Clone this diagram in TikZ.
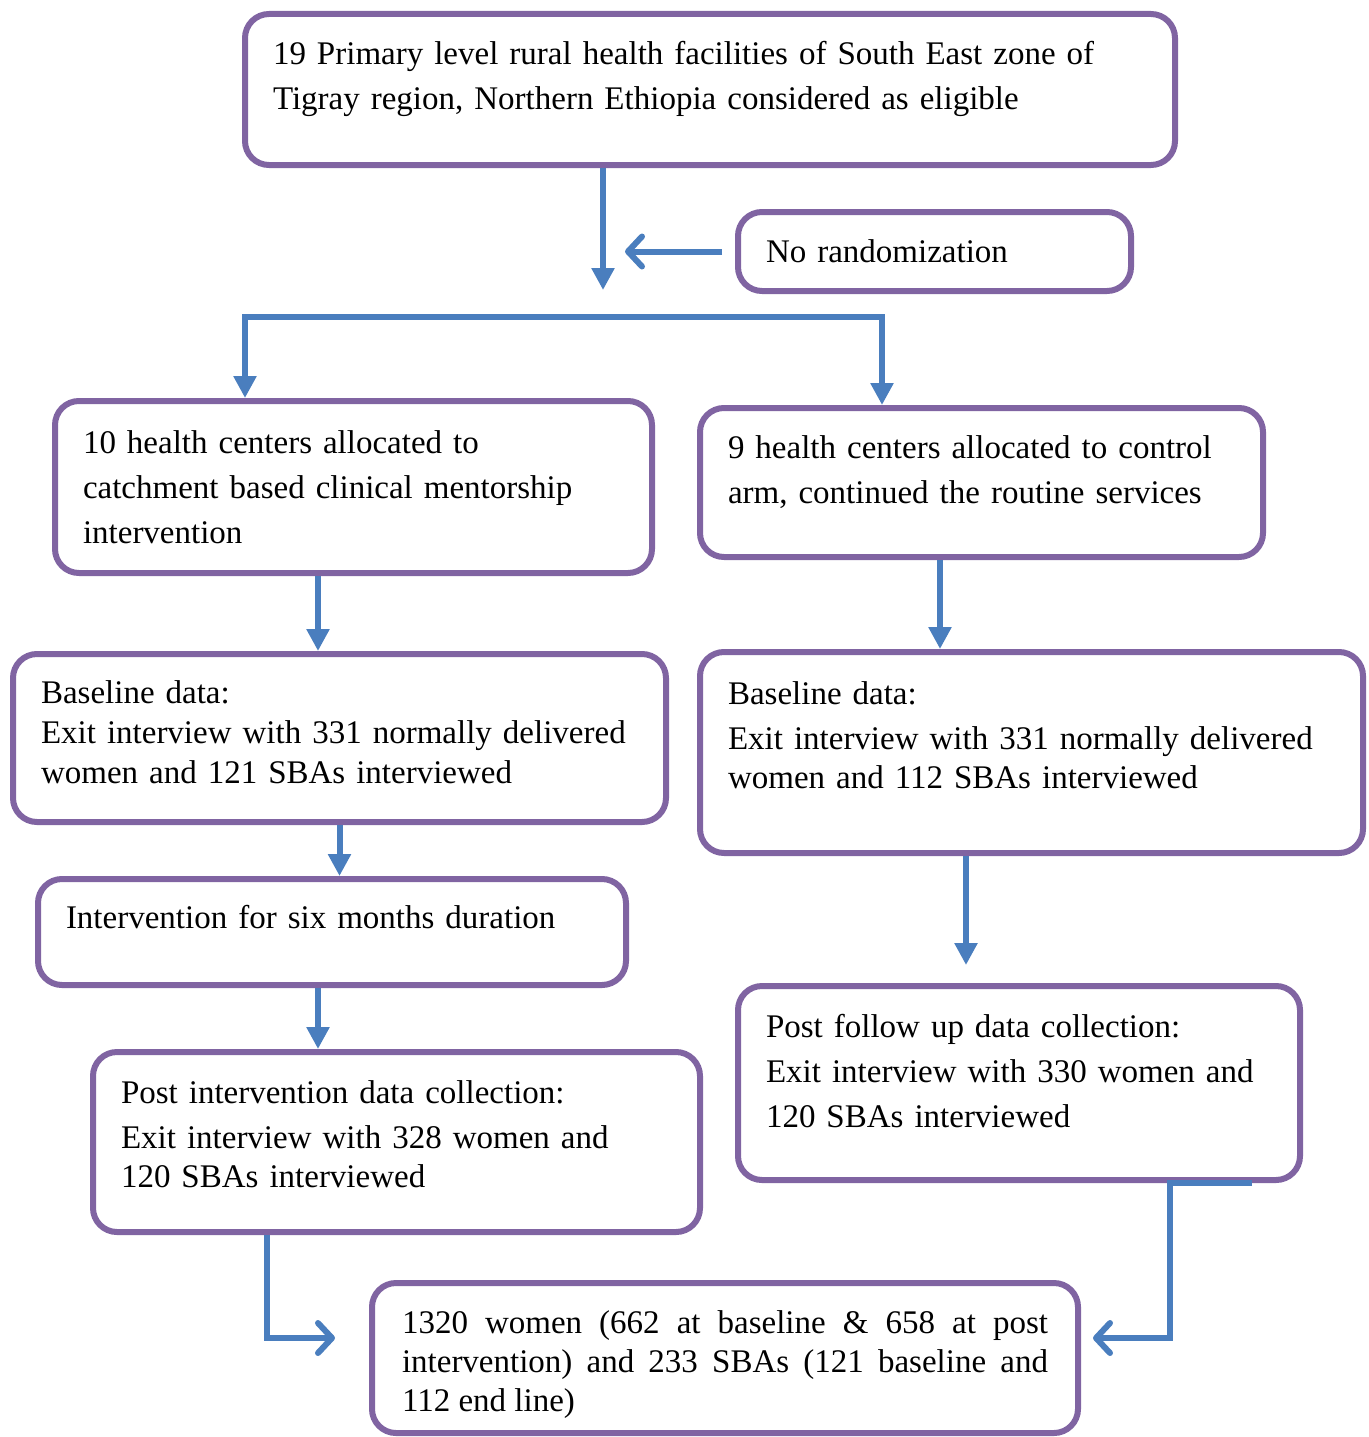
\documentclass[tikz,border=0pt]{standalone}
\usepackage{fontspec}
\setmainfont{Liberation Serif}
\usepackage{xcolor}
\usetikzlibrary{arrows.meta}

\definecolor{boxpurple}{RGB}{128,100,162}
\definecolor{flowblue}{RGB}{74,126,190}
% invisible strut that deepens the last line of a box
\newcommand{\deepline}[1]{\rule[-#1]{0pt}{#1}}

\begin{document}
\begin{tikzpicture}[x=1pt, y=-1pt, font=\fontsize{33}{45}\selectfont,
  stage/.style={draw=boxpurple, line width=6pt, rounded corners=24pt, inner xsep=28pt, align=left},
  link/.style={draw=flowblue, line width=6pt},
  tri/.style={-{Triangle[length=22pt, width=22pt]}},
  tritri/.style={{Triangle[length=22pt, width=22pt]}-{Triangle[length=22pt, width=22pt]}},
  barb/.style={-{Straight Barb[length=14pt, width=30pt, line cap=round, line join=round]}},
  ]
  \useasboundingbox (0,0) rectangle (1368,1437);

  % Boxes
  \node[stage, minimum width=930pt, minimum height=151pt, text width=874pt] (top) at (710,89.5)
    {19 Primary level rural health facilities of South East zone of\\Tigray region, Northern Ethiopia considered as eligible\deepline{29pt}};
  \node[stage, minimum width=393pt, minimum height=79pt, text width=337pt] (norand) at (934.5,251.5)
    {No randomization};
  \node[stage, minimum width=597pt, minimum height=172pt, text width=541pt] (left1) at (353.5,487)
    {10 health centers allocated to\\catchment based clinical mentorship\\intervention};
  \node[stage, minimum width=563pt, minimum height=149pt, text width=507pt] (right1) at (981.5,482.5)
    {9 health centers allocated to control\\arm, continued the routine services\deepline{25pt}};
  \node[stage, minimum width=653pt, minimum height=168pt, text width=597pt, font=\fontsize{33}{40}\selectfont] (left2) at (339.5,738)
    {Baseline data:\\Exit interview with 331 normally delivered\\women and 121 SBAs interviewed\deepline{12pt}};
  \node[stage, minimum width=663pt, minimum height=201pt, text width=607pt] (right2) at (1031.5,752.5)
    {Baseline data:\\Exit interview with 331 normally delivered\\[-6pt]women and 112 SBAs interviewed\deepline{35pt}};
  \node[stage, minimum width=588pt, minimum height=106pt, text width=532pt] (interv) at (332,932)
    {Intervention for six months duration\\[-14pt]\mbox{}};
  \node[stage, minimum width=607pt, minimum height=180pt, text width=551pt] (post) at (396.5,1142)
    {Post intervention data collection:\\Exit interview with 328 women and\\[-6pt]120 SBAs interviewed\deepline{15pt}};
  \node[stage, minimum width=562pt, minimum height=194pt, text width=506pt] (follow) at (1019,1083)
    {Post follow up data collection:\\Exit interview with 330 women and\\120 SBAs interviewed\deepline{24pt}};
  \node[stage, minimum width=706pt, minimum height=150pt, text width=646pt, inner xsep=30pt, align=justify, font=\fontsize{33}{39}\selectfont] (bottom) at (725,1358)
    {\rule{0pt}{35pt}1320 women (662 at baseline \& 658 at post\linebreak intervention) and 233 SBAs (121 baseline and\linebreak 112 end line)};

  % Split point and fork
  \coordinate (split) at (603,290);
  \coordinate (forkL) at (245,317);
  \coordinate (forkR) at (882,317);

  % Arrows
  \draw[link, tri] (top.south -| split) -- (split);
  \draw[link, barb] ([xshift=-13pt]norand.west) -- ++(-97,0);
  \draw[link, tritri] (forkL |- left1.north) -- (forkL) -- (forkR) -- (forkR |- right1.north);
  \draw[link, tri] ([xshift=-35.5pt]left1.south) -- ([xshift=-35.5pt]left1.south |- left2.north);
  \draw[link, tri] ([xshift=-41.5pt]right1.south) -- ([xshift=-41.5pt]right1.south |- right2.north);
  \draw[link, tri] (left2.south) -- (left2.south |- interv.north);
  \draw[link, tri] ([xshift=-65.5pt]right2.south) -- ++(0,109);
  \draw[link, tri] ([xshift=-14pt]interv.south) -- ([xshift=-14pt]interv.south |- post.north);
  \draw[link, barb] ([xshift=-129.5pt]post.south) |- ([xshift=-34pt, yshift=20pt]bottom.west);
  \draw[link, barb] ([xshift=233pt]follow.south) -- ([xshift=151pt]follow.south) |- ([xshift=12pt, yshift=20pt]bottom.east);
\end{tikzpicture}
\end{document}
